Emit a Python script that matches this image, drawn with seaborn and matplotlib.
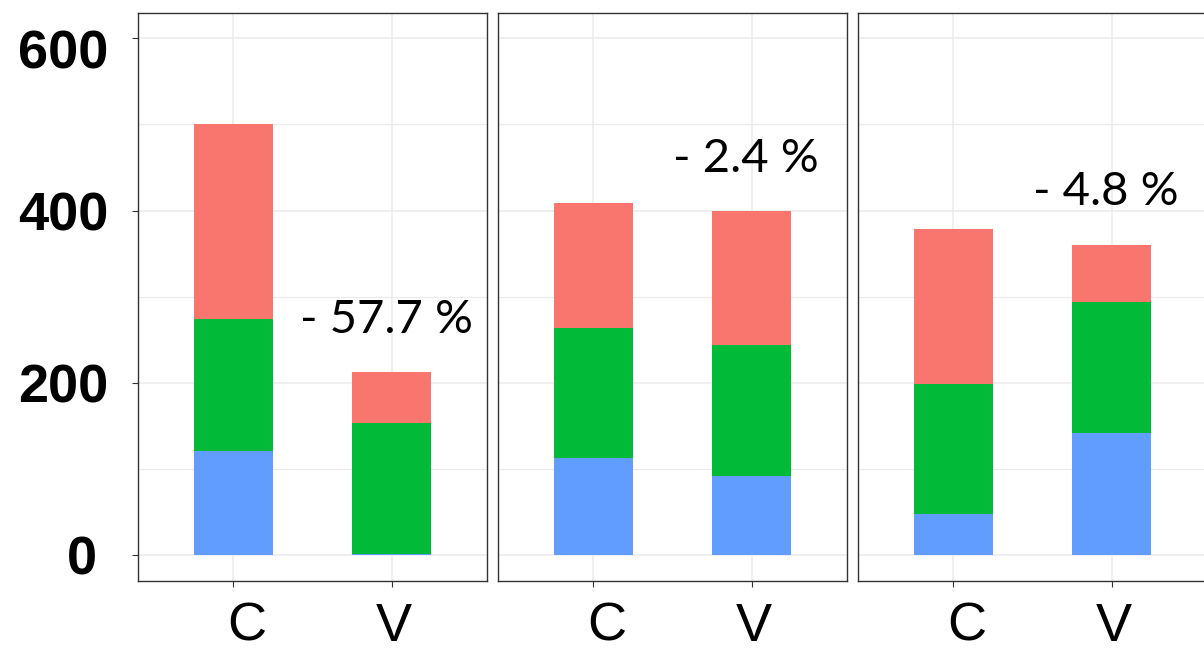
import matplotlib
matplotlib.use("Agg")
import matplotlib.pyplot as plt
import matplotlib.transforms as mtransforms
from matplotlib.ticker import MultipleLocator
import seaborn as sns

# Groups on the x axis of every panel
groups = ["C", "V"]

# Stacked segments per panel (bottom -> top): blue, green, red
blue_vals = [[121, 1], [112, 92], [47, 141]]
green_vals = [[153, 152], [151, 152], [151, 153]]
red_vals = [[227, 59], [146, 155], [180, 66]]

y_ticks = [0, 200, 400, 600]

RED = "#F8766D"
GREEN = "#00BA38"
BLUE = "#619CFF"

sns.set_theme(style="white")
plt.rcParams["font.family"] = ["Liberation Sans", "DejaVu Sans"]

W, H = 1204, 656
fig = plt.figure(figsize=(W / 100, H / 100), dpi=100)

panel_left = [138, 498, 858]
panel_w = 349
panel_top, panel_bottom = 12.6, 580.6

for i in range(3):
    ax = fig.add_axes([panel_left[i] / W, 1 - panel_bottom / H,
                       panel_w / W, (panel_bottom - panel_top) / H])
    b = blue_vals[i]
    g = [b[k] + green_vals[i][k] for k in range(2)]
    r = [g[k] + red_vals[i][k] for k in range(2)]

    # stacked bars: draw cumulative totals from the top segment down
    for vals, col in ((r, RED), (g, GREEN), (b, BLUE)):
        sns.barplot(x=groups, y=vals, color=col, width=0.5, saturation=1,
                    linewidth=0, ax=ax, zorder=3)

    ax.set_xlim(-0.6, 1.6)
    ax.set_ylim(-30, 630)
    ax.set_yticks(y_ticks)
    ax.yaxis.set_minor_locator(MultipleLocator(100))
    ax.set_xlabel("")
    ax.set_ylabel("")

    ax.grid(True, which="major", color="#EBEBEB", linewidth=1.1, zorder=0)
    ax.grid(True, which="minor", axis="y", color="#EBEBEB", linewidth=0.8, zorder=0)
    ax.set_axisbelow(True)

    for sp in ax.spines.values():
        sp.set_color("#333333")
        sp.set_linewidth(1.0)
        sp.set_visible(True)

    ax.tick_params(axis="x", which="major", length=4.3, width=0.8, color="#333333",
                   pad=11, labelsize=39, labelcolor="black", direction="out",
                   bottom=True)
    ax.tick_params(axis="y", which="major", length=4.3, width=0.8, color="#333333",
                   pad=17, labelsize=39, labelcolor="black", direction="out",
                   left=True)
    ax.tick_params(axis="y", which="minor", length=0, left=False)

    # x labels sit slightly right of their ticks
    for lab, dx in zip(ax.get_xticklabels(), (14, 2)):
        lab.set_transform(lab.get_transform() +
                          mtransforms.ScaledTranslation(dx / 100, 0, fig.dpi_scale_trans))

    if i == 0:
        labels = ax.set_yticklabels([str(v) for v in y_ticks], fontweight="bold")
        shifts = {0: (-11, 0), 600: (0, -11)}
        for lab, v in zip(labels, y_ticks):
            dx, dy = shifts.get(v, (0, 0))
            lab.set_transform(lab.get_transform() +
                              mtransforms.ScaledTranslation(dx / 100, dy / 100,
                                                            fig.dpi_scale_trans))
    else:
        ax.tick_params(axis="y", labelleft=False, left=False)

    # relative change of V vs C
    c_tot, v_tot = r[0], r[1]
    pct = (c_tot - v_tot) / c_tot * 100
    ax.annotate(f"- {pct:.1f} %", xy=(1, v_tot + 46), xytext=(-4, 0),
                textcoords="offset points", ha="center", va="baseline",
                fontsize=34, family=["Lato", "DejaVu Sans"], color="black",
                zorder=5)

fig.savefig("out.png", dpi=100, facecolor="white")
